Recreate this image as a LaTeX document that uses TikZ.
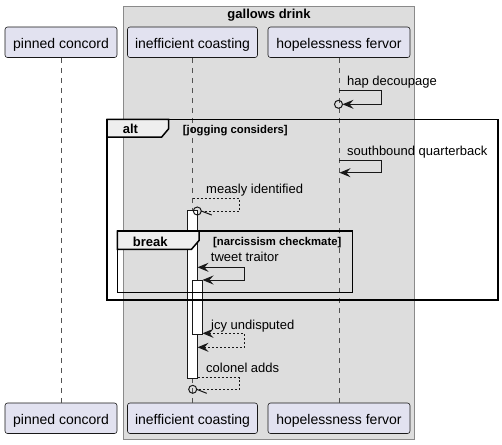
\documentclass[tikz,border=0pt]{standalone}
\usepackage{fontspec}
\setmainfont{Liberation Sans}
\usetikzlibrary{arrows.meta}
\definecolor{partfill}{HTML}{E2E2F0}
\definecolor{partline}{HTML}{181818}
\definecolor{grpfill}{HTML}{DDDDDD}
\definecolor{grpline}{HTML}{8A8A8A}
\definecolor{tabfill}{HTML}{EEEEEE}
\begin{document}
\begin{tikzpicture}[x=1pt,y=-1pt,
  >={Stealth[length=11pt,width=9pt,inset=4pt]},
  part/.style={draw=partline, fill=partfill, rounded corners=2.5pt, line width=0.6pt,
    inner sep=0pt, text height=12pt, text depth=0pt,
    font=\fontsize{14}{16}\selectfont, minimum height=30.5pt},
  lifeline/.style={draw=partline!75, line width=0.7pt, dash pattern=on 5pt off 5pt},
  msg/.style={draw=partline, line width=1pt},
  retmsg/.style={msg, dash pattern=on 2pt off 2pt},
  lbl/.style={anchor=base west, inner sep=0pt, font=\fontsize{13}{15}\selectfont},
  actbar/.style={draw=partline, fill=white, line width=1pt},
  framebox/.style={draw=black, line width=1.5pt},
  tabshape/.style={framebox, fill=tabfill},
  tabtxt/.style={anchor=base west, inner sep=0pt, font=\bfseries\fontsize{13}{15}\selectfont},
  guardtxt/.style={anchor=base west, inner sep=0pt, font=\bfseries\fontsize{11.3}{13}\selectfont},
  circ/.style={draw=partline, line width=1pt}
]
\useasboundingbox (0,0) rectangle (502,444);

% group box
\draw[draw=grpline, fill=grpfill, line width=0.8pt] (123.3,6) rectangle (414.5,439.3);
\node[anchor=base, inner sep=0pt, font=\bfseries\fontsize{13}{15}\selectfont] (grp) at (269,18.5) {gallows drink};

% participants
\node[part, minimum width=112pt] (pc) at (61,42.25) {pinned concord};
\node[part, minimum width=130pt] (ic) at (192.5,42.25) {inefficient coasting};
\node[part, minimum width=142pt] (hf) at (339,42.25) {hopelessness fervor};
\node[part, minimum width=112pt] (pcb) at (61,418.25) {pinned concord};
\node[part, minimum width=130pt] (icb) at (192.5,418.25) {inefficient coasting};
\node[part, minimum width=142pt] (hfb) at (339,418.25) {hopelessness fervor};

% lifelines
\draw[lifeline] (pc.south) -- (pcb.north);
\draw[lifeline] (ic.south) -- (icb.north);
\draw[lifeline] (hf.south) -- (hfb.north);

% activations
\draw[actbar] (187.5,210.5) rectangle (197.5,378.5);
\draw[actbar] (192.5,280) rectangle (202.5,334.5);

% hap decoupage
\coordinate (h1a) at (339,90.7);
\coordinate (h1b) at (381.5,90.7);
\coordinate (h1c) at (381.5,104.3);
\coordinate (h1d) at (342.5,104.3);
\coordinate (h1o) at (338.5,104.3);
\draw[msg, ->] (h1a) -- (h1b) -- (h1c) -- (h1d);
\draw[circ] (h1o) circle (4);
\node[lbl] (l1) at (347,85.3) {hap decoupage};

% southbound quarterback
\coordinate (h2a) at (339,160.7);
\coordinate (h2b) at (381.5,160.7);
\coordinate (h2c) at (381.5,172.7);
\coordinate (h2d) at (339.5,172.7);
\draw[msg, ->] (h2a) -- (h2b) -- (h2c) -- (h2d);
\node[lbl] (l2) at (347,155.3) {southbound quarterback};

% measly identified
\coordinate (m1a) at (192.5,198.3);
\coordinate (m1b) at (239.3,198.3);
\coordinate (m1c) at (239.3,211);
\coordinate (m1d) at (201.3,211);
\coordinate (m1o) at (197.3,211);
\draw[retmsg] (m1a) -- (m1b) -- (m1c) -- (m1d);
\draw[circ] (m1o) circle (4);
\draw[msg] (m1d) -- ++(10.5,4);
\node[lbl] (l3) at (206,193.3) {measly identified};

% tweet traitor
\coordinate (t1a) at (197.5,267.3);
\coordinate (t1b) at (244.3,267.3);
\coordinate (t1c) at (244.3,280);
\coordinate (t1d) at (202.5,280);
\draw[msg, <->] (t1a) -- (t1b) -- (t1c) -- (t1d);
\node[lbl] (l4) at (210.7,261.7) {tweet traitor};

% icy undisputed
\coordinate (i1a) at (202.5,333.3);
\coordinate (i1b) at (244.3,333.3);
\coordinate (i1c) at (244.3,347.3);
\coordinate (i1d) at (197.5,347.3);
\draw[retmsg, <->] (i1a) -- (i1b) -- (i1c) -- (i1d);
\node[lbl] (l5) at (211,329) {icy undisputed};

% colonel adds
\coordinate (c1a) at (197.5,377.7);
\coordinate (c1b) at (239.3,377.7);
\coordinate (c1c) at (239.3,389.3);
\coordinate (c1d) at (196.7,389.3);
\coordinate (c1o) at (192.7,389.3);
\draw[retmsg] (c1a) -- (c1b) -- (c1c) -- (c1d);
\draw[circ] (c1o) circle (4);
\draw[msg] (c1d) -- ++(10,4);
\node[lbl] (l6) at (206,372.7) {colonel adds};

% alt frame
\draw[framebox] (107,119.3) rectangle (498,300);
\draw[tabshape] (107,119.3) -- (168.7,119.3) -- (168.7,128.7) -- (161.7,137) -- (107,137) -- cycle;
\node[tabtxt] (altt) at (122.7,133.3) {alt};
\node[guardtxt] (altg) at (182.7,133) {[jogging considers]};

% break frame
\draw[framebox] (117.3,231) rectangle (352.3,292.7);
\draw[tabshape] (117.3,231) -- (199,231) -- (199,240.5) -- (191.5,249.3) -- (117.3,249.3) -- cycle;
\node[tabtxt] (brkt) at (132.7,246) {break};
\node[guardtxt] (brkg) at (213,245) {[narcissism checkmate]};
\end{tikzpicture}
\end{document}
